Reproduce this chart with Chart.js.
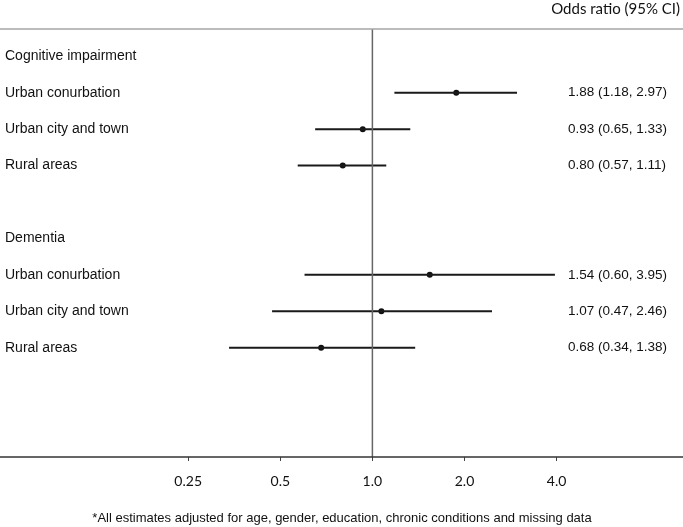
<!DOCTYPE html>
<html>
<head>
<meta charset="utf-8">
<script src="https://cdn.jsdelivr.net/npm/chart.js@4"></script>
<style>
  html, body { margin: 0; padding: 0; background: #fff; }
  #wrap { width: 683px; height: 527px; position: relative; }
</style>
</head>
<body>
<div id="wrap"><canvas id="forest"></canvas></div>
<script>
// rows of the forest plot (top to bottom)
const rowLabels = ["Cognitive impairment", "Urban conurbation", "Urban city and town", "Rural areas", "",
                   "Dementia", "Urban conurbation", "Urban city and town", "Rural areas"];
const rowPos = [1, 2, 3, 4, 5, 6, 7, 8, 9];

// estimates, only for the data rows
const estRows = [2, 3, 4, 7, 8, 9];
const oddsRatio = [1.88, 0.93, 0.80, 1.54, 1.07, 0.68];
const ciLow = [1.18, 0.65, 0.57, 0.60, 0.47, 0.34];
const ciHigh = [2.97, 1.33, 1.11, 3.95, 2.46, 1.38];

const tickValues = [0.25, 0.5, 1, 2, 4];
const tickText = ["0.25", "0.5", "1.0", "2.0", "4.0"];

const fmt = v => v.toFixed(2);

// CI segments, broken with a null point between rows
const ciSegs = [];
estRows.forEach((r, i) => {
    ciSegs.push({x: ciLow[i], y: r}, {x: ciHigh[i], y: r}, {x: ciHigh[i], y: null});
});

const textPlugin = {
    id: 'forestText',
    afterDraw(chart) {
        const ctx = chart.ctx;
        const ys = chart.scales.y;
        const area = chart.chartArea;
        ctx.save();
        // top rule
        ctx.strokeStyle = '#a6a6a6';
        ctx.lineWidth = 1.5;
        ctx.beginPath();
        ctx.moveTo(0, area.top);
        ctx.lineTo(chart.width, area.top);
        ctx.stroke();
        // bottom axis line, full width
        ctx.strokeStyle = '#333';
        ctx.beginPath();
        ctx.moveTo(0, area.bottom);
        ctx.lineTo(chart.width, area.bottom);
        ctx.stroke();

        ctx.fillStyle = '#111';
        ctx.textBaseline = 'middle';
        ctx.font = '14px "Liberation Sans", Arial, sans-serif';
        ctx.textAlign = 'left';
        rowLabels.forEach((lab, i) => {
            if (lab) ctx.fillText(lab, 5, ys.getPixelForValue(rowPos[i]));
        });
        ctx.font = '13.5px "Liberation Sans", Arial, sans-serif';
        estRows.forEach((r, i) => {
            const s = fmt(oddsRatio[i]) + ' (' + fmt(ciLow[i]) + ', ' + fmt(ciHigh[i]) + ')';
            ctx.fillText(s, 568, ys.getPixelForValue(r));
        });
        ctx.textAlign = 'right';
        ctx.font = '15px Lato, "Open Sans", sans-serif';
        ctx.fillText('Odds ratio (95% CI)', 680, 9);
        ctx.textAlign = 'center';
        ctx.font = '13px "Liberation Sans", Arial, sans-serif';
        ctx.fillText('*All estimates adjusted for age, gender, education, chronic conditions and missing data', 342, 518);
        ctx.restore();
    }
};

new Chart(document.getElementById('forest').getContext('2d'), {
    type: 'line',
    data: {
        datasets: [
            {
                label: 'ref',
                data: [{x: 1, y: 0.25}, {x: 1, y: 12}],
                borderColor: '#666',
                borderWidth: 1.5,
                pointRadius: 0
            },
            {
                label: 'ci',
                data: ciSegs,
                borderColor: '#1a1a1a',
                borderWidth: 2,
                pointRadius: 0,
                spanGaps: false
            },
            {
                label: 'or',
                data: estRows.map((r, i) => ({x: oddsRatio[i], y: r})),
                showLine: false,
                pointRadius: 3,
                pointStyle: 'circle',
                pointBackgroundColor: '#111',
                pointBorderColor: '#111',
                pointBorderWidth: 0
            }
        ]
    },
    options: {
        responsive: true,
        maintainAspectRatio: false,
        animation: false,
        layout: { padding: { top: 29, bottom: 30, left: 0, right: 0 } },
        plugins: { legend: { display: false }, tooltip: { enabled: false } },
        scales: {
            x: {
                type: 'logarithmic',
                min: 0.0625,
                max: 10.05,
                afterBuildTicks: s => { s.ticks = tickValues.map(v => ({value: v})); },
                afterFit: s => { s.height = 40; },
                grid: { drawOnChartArea: false, drawTicks: true, tickLength: 4, color: '#444' },
                border: { display: false },
                ticks: {
                    autoSkip: false,
                    maxRotation: 0,
                    padding: 12,
                    color: '#111',
                    font: { family: 'Lato, "Open Sans", sans-serif', size: 14 },
                    callback: v => {
                        const k = tickValues.indexOf(v);
                        return k >= 0 ? tickText[k] : '';
                    }
                }
            },
            y: {
                type: 'linear',
                reverse: true,
                min: 0.25,
                max: 12,
                display: false
            }
        }
    },
    plugins: [textPlugin]
});
</script>
</body>
</html>
